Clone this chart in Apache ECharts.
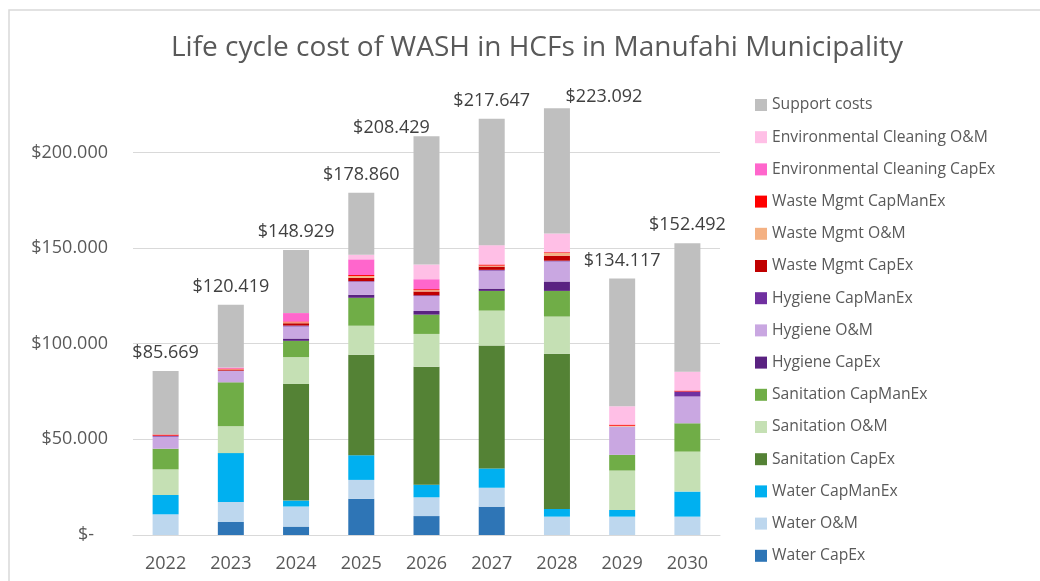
<!DOCTYPE html>
<html>
<head>
<meta charset="utf-8">
<title>Life cycle cost of WASH in HCFs</title>
<script src="https://cdn.jsdelivr.net/npm/echarts@6/dist/echarts.min.js"></script>
<style>
  html, body { margin: 0; padding: 0; background: #fff; }
  #chart { width: 1040px; height: 581px; }
</style>
</head>
<body>
<div id="chart"></div>
<script>
// categories
var years = ['2022', '2023', '2024', '2025', '2026', '2027', '2028', '2029', '2030'];

// series values (USD), bottom of stack first
var waterCapEx      = [0, 6800, 4400, 19000, 9900, 14800, 0, 0, 0];
var waterOM         = [10800, 10500, 10500, 9800, 9800, 9900, 9600, 9600, 9600];
var waterCapManEx   = [10100, 25500, 3100, 12900, 6600, 10100, 4000, 3500, 13100];
var sanCapEx        = [0, 0, 61000, 52500, 61700, 64200, 81100, 0, 0];
var sanOM           = [13400, 14000, 14000, 15200, 17100, 18300, 19500, 20600, 20900];
var sanCapManEx     = [10800, 23000, 8500, 14600, 10100, 10300, 13400, 8200, 14800];
var hygCapEx        = [0, 0, 1200, 1600, 1900, 1200, 4900, 0, 0];
var hygOM           = [6300, 6100, 6300, 6800, 7800, 9400, 10500, 14800, 14000];
var hygCapManEx     = [500, 0, 500, 300, 400, 400, 400, 0, 2600];
var wasteCapEx      = [0, 400, 1200, 1700, 2000, 1700, 2600, 0, 0];
var wasteOM         = [0, 300, 500, 1000, 700, 500, 1400, 400, 0];
var wasteCapManEx   = [600, 400, 400, 500, 500, 600, 400, 600, 500];
var envCapEx        = [0, 500, 4400, 8200, 5200, 0, 0, 0, 0];
var envOM           = [0, 0, 0, 2400, 7700, 10100, 9800, 9600, 9900];
var supportCosts    = [33169, 32919, 32929, 32360, 67029, 66147, 65492, 66817, 67092];

// totals printed above each bar
var totals = [85669, 120419, 148929, 178860, 208429, 217647, 223092, 134117, 152492];

// y axis ticks
var yTicks = [0, 50000, 100000, 150000, 200000];

// a couple of total labels were dragged by hand in the original
var labelNudge = { 4: [-35, 10], 6: [47, 7] };

var FONT = "'Open Sans', 'Noto Sans', sans-serif";

function money(v) {
  if (!v) return '$-   ';
  var s = String(Math.round(v)).replace(/\B(?=(\d{3})+(?!\d))/g, '.');
  return '$' + s;
}

var seriesDefs = [
  ['Water CapEx', waterCapEx, '#2E75B6'],
  ['Water O&M', waterOM, '#BDD7EE'],
  ['Water CapManEx', waterCapManEx, '#00B0F0'],
  ['Sanitation CapEx', sanCapEx, '#548235'],
  ['Sanitation O&M', sanOM, '#C5E0B4'],
  ['Sanitation CapManEx', sanCapManEx, '#70AD47'],
  ['Hygiene CapEx', hygCapEx, '#5A2281'],
  ['Hygiene O&M', hygOM, '#C9A7E1'],
  ['Hygiene CapManEx', hygCapManEx, '#7030A0'],
  ['Waste Mgmt CapEx', wasteCapEx, '#C00000'],
  ['Waste Mgmt O&M', wasteOM, '#F4B183'],
  ['Waste Mgmt CapManEx', wasteCapManEx, '#FF0000'],
  ['Environmental Cleaning CapEx', envCapEx, '#FF66CC'],
  ['Environmental Cleaning O&M', envOM, '#FFBFE6'],
  ['Support costs', supportCosts, '#BFBFBF']
];

var series = seriesDefs.map(function (d, i) {
  var last = i === seriesDefs.length - 1;
  var s = {
    name: d[0],
    type: 'bar',
    stack: 'total',
    barWidth: 26,
    itemStyle: { color: d[2] },
    data: !last ? d[1] : d[1].map(function (v, j) {
      var item = { value: v };
      if (labelNudge[j]) item.label = { offset: labelNudge[j] };
      return item;
    })
  };
  if (last) {
    s.label = {
      show: true,
      position: 'top',
      distance: 9,
      fontFamily: FONT,
      fontSize: 18,
      color: '#404040',
      formatter: function (p) { return money(totals[p.dataIndex]); }
    };
  }
  return s;
});

var chart = echarts.init(document.getElementById('chart'), null, { renderer: 'canvas' });

chart.setOption({
  animation: false,
  backgroundColor: '#fff',
  textStyle: { fontFamily: FONT },
  title: {
    text: 'Life cycle cost of WASH in HCFs in Manufahi Municipality',
    left: 532,
    textAlign: 'center',
    top: 29,
    textStyle: { fontFamily: FONT, fontSize: 28, fontWeight: 'normal', color: '#595959' }
  },
  graphic: [{
    type: 'rect',
    shape: { x: 9, y: 10, width: 1100, height: 700 },
    style: { fill: 'none', stroke: '#D9D9D9', lineWidth: 1.5 },
    silent: true
  }],
  legend: {
    orient: 'vertical',
    left: 755,
    top: 97,
    padding: 0,
    icon: 'rect',
    itemWidth: 12,
    itemHeight: 12,
    itemGap: 16.2,
    data: seriesDefs.map(function (d) { return d[0]; }).reverse(),
    textStyle: { fontFamily: FONT, fontSize: 15.7, lineHeight: 16, color: '#595959' }
  },
  grid: { left: 133, right: 320, top: 95, bottom: 46, containLabel: false },
  xAxis: {
    type: 'category',
    data: years,
    axisTick: { show: false },
    axisLine: { lineStyle: { color: '#D9D9D9', width: 1 } },
    axisLabel: { fontFamily: FONT, fontSize: 18, color: '#595959', margin: 20 }
  },
  yAxis: {
    type: 'value',
    min: yTicks[0],
    max: 230000,
    interval: yTicks[1] - yTicks[0],
    axisLine: { show: false },
    axisTick: { show: false },
    splitLine: { showMaxLine: false, lineStyle: { color: '#D9D9D9', width: 1 } },
    axisLabel: {
      fontFamily: FONT, fontSize: 18, color: '#595959', margin: 25,
      showMaxLabel: false,
      formatter: function (v) { return yTicks.indexOf(v) >= 0 ? money(v) : ''; }
    }
  },
  series: series
});
</script>
</body>
</html>
